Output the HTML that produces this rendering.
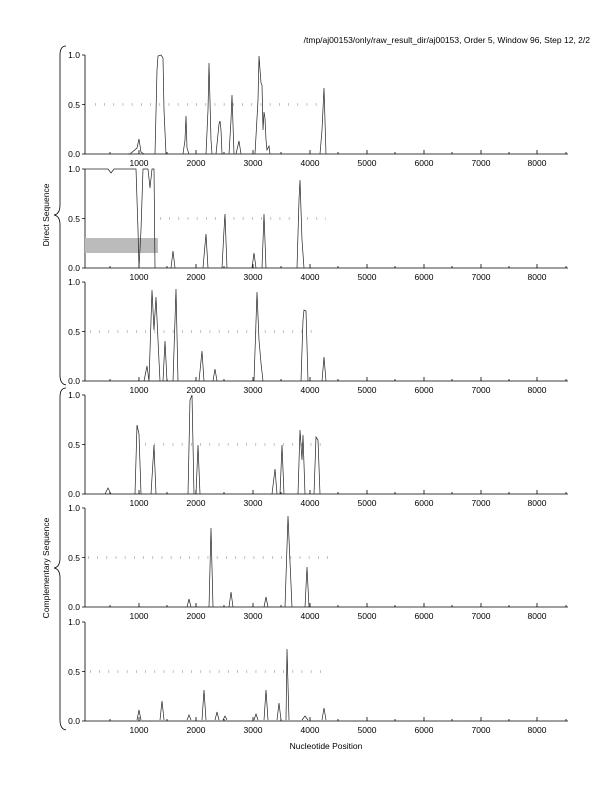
<!DOCTYPE html>
<html><head><meta charset="utf-8"><style>
body{margin:0;background:#fff}
svg{display:block}
text{font-family:"Liberation Sans",sans-serif;font-size:8.5px;fill:#000}
.p{fill:none;stroke:#222;stroke-width:0.7}
.d{stroke:#aaa;stroke-width:3;stroke-dasharray:0.7 8.5}
.ax{stroke:#000;stroke-width:0.8;fill:none}
</style></head><body>
<svg width="612" height="792" viewBox="0 0 612 792">
<text x="590" y="43" text-anchor="end">/tmp/aj00153/only/raw_result_dir/aj00153, Order 5, Window 96, Step 12, 2/2</text>

<path class="ax" d="M66 46 Q60 46 60 55 L60 205 Q60 214 54 215 Q60 216 60 225 L60 375 Q60 384 66 385" stroke="#888"/>
<path class="ax" d="M66 388 Q60 388 60 397 L60 558 Q60 567 54 568 Q60 569 60 578 L60 720 Q60 729 66 730" stroke="#888"/>
<text transform="translate(49,215) rotate(-90)" text-anchor="middle">Direct Sequence</text>
<text transform="translate(49,568) rotate(-90)" text-anchor="middle">Complementary Sequence</text>
<text x="326" y="749" text-anchor="middle">Nucleotide Position</text>

<g id="axes">
<path class="ax" d="M85 55 L85 154 L568 154"/>
<path class="ax" d="M82 55H85M82 104.5H85M82 154H85"/>
<text x="80" y="58" text-anchor="end">1.0</text><text x="80" y="108" text-anchor="end">0.5</text><text x="80" y="157" text-anchor="end">0.0</text>
<path class="ax" d="M139 154v-4M196 154v-4M253 154v-4M310 154v-4M367 154v-4M424 154v-4M481 154v-4M537 154v-4M110 154v-2M167 154v-2M224 154v-2M281 154v-2M338 154v-2M395 154v-2M452 154v-2M509 154v-2M566 154v-2"/>
<g text-anchor="middle"><text x="139" y="166">1000</text><text x="196" y="166">2000</text><text x="253" y="166">3000</text><text x="310" y="166">4000</text><text x="367" y="166">5000</text><text x="424" y="166">6000</text><text x="481" y="166">7000</text><text x="537" y="166">8000</text></g>
</g>
<use href="#axes" y="114"/>
<use href="#axes" y="227"/>
<use href="#axes" y="340"/>
<use href="#axes" y="453"/>
<use href="#axes" y="567"/>

<line class="d" x1="95" x2="322" y1="104.5" y2="104.5"/>
<line class="d" x1="160" x2="326" y1="218.5" y2="218.5"/>
<line class="d" x1="90" x2="316" y1="331.5" y2="331.5"/>
<line class="d" x1="145" x2="327" y1="444.5" y2="444.5"/>
<line class="d" x1="88" x2="330" y1="557.5" y2="557.5"/>
<line class="d" x1="90" x2="326" y1="671.5" y2="671.5"/>

<rect x="85" y="238" width="73" height="15" fill="#bbb"/>

<path class="p" d="M128 154 L130 154 L137 148 L139 139 L141 152 L144 154 M155 154 L157 70 L158 56 L161 55 L163 58 L164 110 L166 154 M183 154 L185 140 L186 116 L187 148 L189 154 M206 154 L208 110 L209 63 L211 140 L212 154 M216 154 L219 124 L220 121 L221 130 L222 154 M229 154 L231 120 L232 95 L234 154 M236 154 L239 141 L241 154 M255 154 L258 100 L259 56 L261 83 L262 85 L263 130 L264 112 L265 118 L266 140 L267 150 L269 146 L270 154 M320 154 L322 130 L324 88 L326 154"/>
<path class="p" d="M85 169 L108 169 L111 173 L114 169 L136 169 L138 230 L139 268 L141 230 L143 169 L148 169 L150 188 L152 169 L154 169 L155 268 M171 268 L173 251 L175 268 M203 268 L205 245 L206 234 L208 268 M222 268 L224 230 L225 214 L227 268 M252 268 L254 253 L256 268 M262 268 L264 214 L266 268 M297 268 L299 200 L300 180 L302 240 L304 268"/>
<path class="p" d="M144 381 L147 366 L149 381 M149 381 L152 290 L154 330 L156 297 L158 340 L160 381 M163 381 L165 341 L167 381 M173 381 L176 289 L178 381 M199 381 L202 351 L204 381 M213 381 L215 369 L217 381 M254 381 L257 292 L259 340 L261 363 L263 381 M301 381 L303 320 L304 310 L306 311 L308 381 M322 381 L324 357 L326 381"/>
<path class="p" d="M105 494 L108 488 L111 494 M135 494 L137 425 L139 434 L141 494 M151 494 L154 445 L156 494 M188 494 L190 400 L192 395 L194 494 M196 494 L198 445 L200 494 M272 494 L275 469 L277 494 M280 494 L282 445 L284 494 M298 494 L300 430 L302 460 L303 435 L305 494 M314 494 L316 437 L318 440 L320 494"/>
<path class="p" d="M187 607 L189 599 L191 607 M209 607 L211 528 L213 607 M229 607 L231 592 L233 607 M264 607 L266 597 L268 607 M285 607 L288 516 L290 562 L292 607 M305 607 L307 567 L309 607"/>
<path class="p" d="M137 720 L139 710 L141 720 M160 720 L162 701 L164 720 M187 720 L189 715 L191 720 M202 720 L204 690 L206 720 M215 720 L217 712 L219 720 M223 720 L225 716 L227 720 M254 720 L256 714 L258 720 M264 720 L266 690 L268 720 M277 720 L279 703 L281 720 M286 720 L287 649 L289 720 M302 720 L305 716 L308 720 M322 720 L324 708 L326 720"/>
</svg>
</body></html>
